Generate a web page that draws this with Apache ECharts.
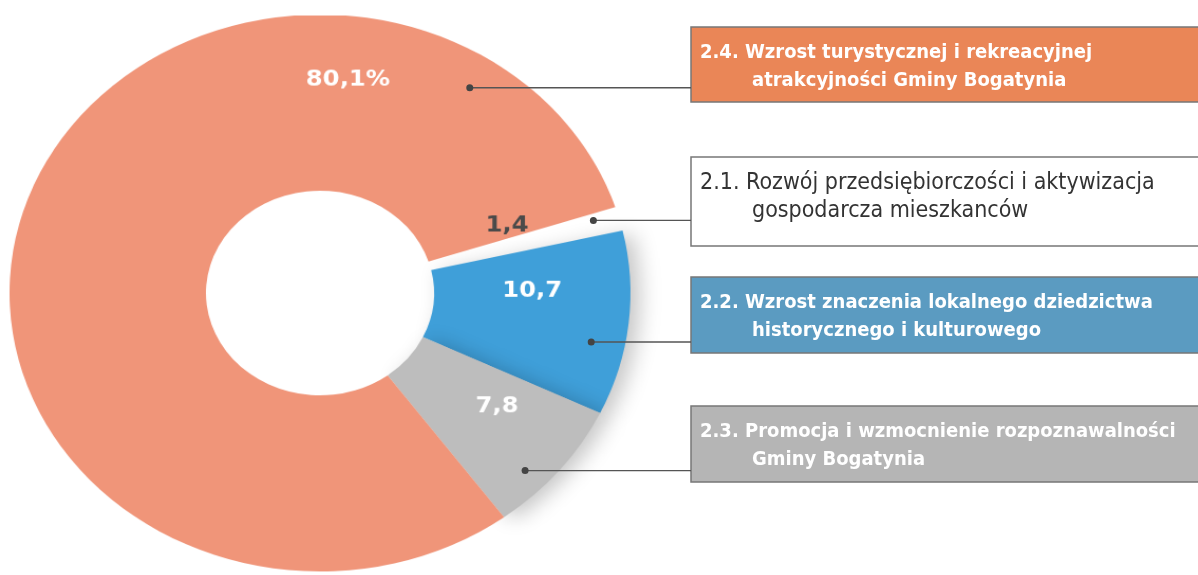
<!DOCTYPE html>
<html>
<head>
<meta charset="utf-8">
<script src="https://cdn.jsdelivr.net/npm/echarts@6/dist/echarts.min.js"></script>
<style>
  html, body { margin: 0; background: #fff; }
  #wrap { position: relative; width: 1198px; height: 575px; overflow: hidden; background: #fff; }
  #pie { position: absolute; left: 0; top: 0; width: 1198px; height: 660px; }
  #overlay { position: absolute; left: 0; top: 0; width: 1198px; height: 575px; }
</style>
</head>
<body>
<div id="wrap">
  <div id="pie"></div>
  <div id="overlay"></div>
</div>
<script>
// slice order is the drawing order, clockwise from the top right
const categories = [
  '2.1. Rozwój przedsiębiorczości i aktywizacja\ngospodarcza mieszkanców',
  '2.2. Wzrost znaczenia lokalnego dziedzictwa\nhistorycznego i kulturowego',
  '2.3. Promocja i wzmocnienie rozpoznawalności\nGminy Bogatynia',
  '2.4. Wzrost turystycznej i rekreacyjnej\natrakcyjności Gminy Bogatynia'
];
const values = [1.4, 10.7, 7.8, 80.1];
const sliceColors = ['#ffffff', '#3f9fd9', '#bdbdbd', '#f09579'];
const labelColors = ['#4a4a4a', '#ffffff', '#ffffff', '#ffffff'];

// legend boxes, top to bottom (index into categories)
const boxOrder = [3, 0, 1, 2];
const boxFills = ['#ea8657', '#ffffff', '#5b9bc1', '#b5b5b5'];
const boxText = ['#ffffff', '#333333', '#ffffff', '#ffffff'];

// layout: the ring is drawn round and squashed a bit, like the printed one
const CX = 320, CY = 293, R0 = 108, R1 = 294;
const SX = 1.056, SY = 0.947;
const LABEL_POS = [[507, 226], [532, 291], [497, 407], [348, 80]]; // on screen
const LEADER = [[16.5, 270], [-11.4, 262], [-44, 270], [56.8, 259]]; // angle deg, radius (ring frame)
const BOX_X = 691, BOX_W = 520;
const BOX_Y = [27, 157, 277, 406];
const BOX_H = [75, 89, 76, 76];

const FONT_BOX = '"Liberation Sans Narrow", "DejaVu Sans Condensed", Roboto, sans-serif';
const FONT_NUM = '"DejaVu Sans", sans-serif';

const fmt = (v, i) => v.toFixed(1).replace('.', ',') + (i === 3 ? '%' : '');

const pieEl = document.getElementById('pie');
pieEl.style.transformOrigin = CX + 'px ' + CY + 'px';
pieEl.style.transform = 'scale(' + SX + ',' + SY + ')';

const pie = echarts.init(pieEl);
const overlay = echarts.init(document.getElementById('overlay'));

pie.setOption({
  backgroundColor: '#fff',
  animation: false,
  series: [
    {
      type: 'pie',
      center: [CX, CY],
      radius: [R0, R1],
      startAngle: 18,
      clockwise: true,
      avoidLabelOverlap: false,
      emphasis: { disabled: true },
      label: {
        show: true,
        position: 'inside',
        fontFamily: FONT_NUM,
        fontWeight: 'bold',
        fontSize: 23,
        formatter: (p) => fmt(p.value, p.dataIndex)
      },
      labelLine: { show: false },
      labelLayout: (p) => ({
        x: CX + (LABEL_POS[p.dataIndex][0] - CX) / SX,
        y: CY + (LABEL_POS[p.dataIndex][1] - CY) / SY,
        align: 'center',
        verticalAlign: 'middle'
      }),
      data: values.map((v, i) => ({
        value: v,
        name: categories[i],
        itemStyle: Object.assign(
          { color: sliceColors[i], borderWidth: 0 },
          i === 1 || i === 2
            ? { shadowBlur: 20, shadowColor: 'rgba(0,0,0,0.22)', shadowOffsetX: 9, shadowOffsetY: 3 }
            : {}
        ),
        label: { color: labelColors[i] }
      }))
    }
  ]
});

const graphics = [];
boxOrder.forEach((ci, row) => {
  const y = BOX_Y[row];
  const bold = row !== 1;
  graphics.push({
    type: 'rect', z: 10,
    shape: { x: BOX_X, y: y, width: BOX_W, height: BOX_H[row] },
    style: { fill: boxFills[row], stroke: '#777', lineWidth: 1.5 }
  });
  categories[ci].split('\n').forEach((t, k) => {
    graphics.push({
      type: 'text', z: 11,
      x: k === 0 ? 700 : 752,
      y: y + (k === 0 ? 26 : 54),
      style: {
        text: t,
        fill: boxText[row],
        fontSize: bold ? 20 : 23,
        fontWeight: bold ? 'bold' : 'normal',
        fontFamily: FONT_BOX,
        verticalAlign: 'middle'
      }
    });
  });
  // leader from inside the slice to the box
  const a = LEADER[ci][0] * Math.PI / 180;
  const px = CX + SX * LEADER[ci][1] * Math.cos(a);
  const py = CY - SY * LEADER[ci][1] * Math.sin(a);
  graphics.push({
    type: 'line', z: 12,
    shape: { x1: px, y1: py, x2: BOX_X, y2: py },
    style: { stroke: '#555', lineWidth: 1.4 }
  });
  graphics.push({
    type: 'circle', z: 13,
    shape: { cx: px, cy: py, r: 3.5 },
    style: { fill: '#444' }
  });
});

overlay.setOption({
  backgroundColor: 'transparent',
  animation: false,
  graphic: { elements: graphics }
});
</script>
</body>
</html>
